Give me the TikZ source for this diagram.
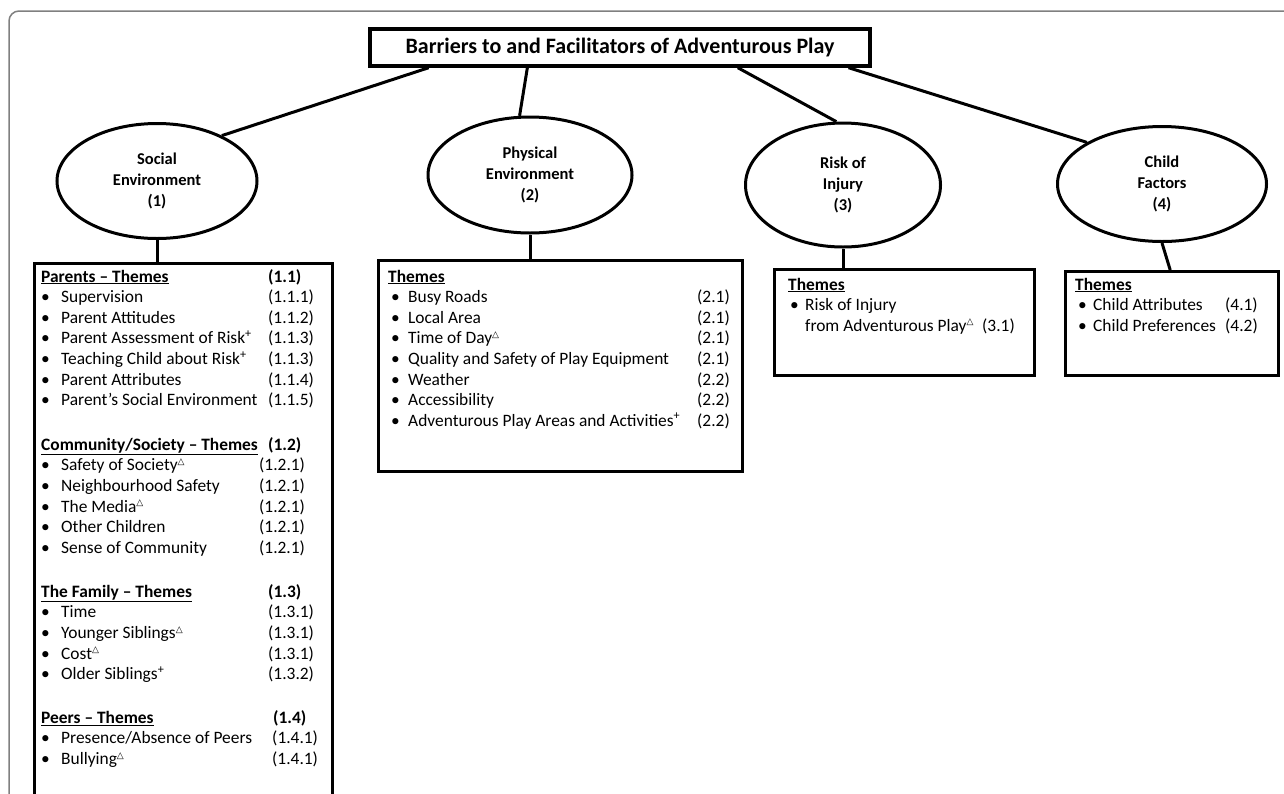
\documentclass[tikz,border=0pt]{standalone}
\usepackage{fontspec}
\setmainfont{Carlito}
\newfontfamily\trifont{DejaVu Sans}
\usetikzlibrary{shapes.geometric,calc}
\newcommand{\pls}{\textsuperscript{+}}
\newcommand{\tri}{\textsuperscript{\trifont\fontsize{9}{9}\selectfont △}}
\tikzset{
  cat/.style={ellipse, draw, line width=3pt, inner sep=0pt, align=center,
    font=\fontsize{16.5}{21}\selectfont\bfseries},
  themebox/.style={draw, line width=3.4pt, anchor=north west, inner sep=0pt},
  link/.style={line width=3pt},
  list/.style={anchor=base west, inner sep=0pt, font=\fontsize{17.4}{20.6}\selectfont}
}
\begin{document}
\begin{tikzpicture}[x=1pt,y=-1pt]
\useasboundingbox (0,0) rectangle (1284,793);
\draw[black!50, line width=1.5pt, rounded corners=10pt] (9,11) rectangle (1320,830);
% title
\node[draw, line width=3.4pt, minimum width=500pt, minimum height=37pt,
  font=\fontsize{22}{24}\selectfont\bfseries] (top) at (620,47.5)
  {Barriers to and Facilitators of Adventurous Play};
% categories
\node[cat, minimum width=200pt, minimum height=115pt] (e1) at (157,181) {Social\\Environment\\(1)};
\node[cat, minimum width=204pt, minimum height=116pt] (e2) at (530,175) {Physical\\Environment\\(2)};
\node[cat, minimum width=195pt, minimum height=124pt] (e3) at (843,185) {Risk of\\Injury\\(3)};
\node[cat, minimum width=209pt, minimum height=115pt] (e4) at (1162,184) {Child\\Factors\\(4)};
\draw[link] ($(top.south west)!.12!(top.south east)$) -- (e1.35);
\draw[link] ($(top.south west)!.316!(top.south east)$) -- (e2.100);
\draw[link] ($(top.south west)!.734!(top.south east)$) -- (e3.96);
\draw[link] ($(top.south west)!.954!(top.south east)$) -- (e4.151);
% theme boxes
\node[themebox, minimum width=298pt, minimum height=570pt] (b1) at (33,262) {};
\node[themebox, minimum width=364pt, minimum height=211pt] (b2) at (377,259) {};
\node[themebox, minimum width=260pt, minimum height=106pt] (b3) at (773,268) {};
\node[themebox, minimum width=213pt, minimum height=104pt] (b4) at (1064,270) {};
\draw[link] (e1.south) -- (e1.south |- b1.north);
\draw[link] (e2.south) -- (e2.south |- b2.north);
\draw[link] (e3.south) -- (e3.south |- b3.north);
\draw[link] (e4.south) -- ($(b4.north)+(-2,0)$);
% lists
\node[list] (t1) at (41,282) {\begin{tabular}[t]{@{}p{20pt}@{}p{207pt}@{}l@{}}
\multicolumn{2}{@{}l}{\textbf{\underline{Parents – Themes}}} & \textbf{(1.1)}\\
• & Supervision & (1.1.1)\\
• & Parent Attitudes & (1.1.2)\\
• & Parent Assessment of Risk\pls & (1.1.3)\\
• & Teaching Child about Risk\pls & (1.1.3)\\
• & Parent Attributes & (1.1.4)\\
• & Parent’s Social Environment & (1.1.5)\\[24pt]
\multicolumn{2}{@{}l}{\textbf{\underline{Community/Society – Themes}}} & \textbf{(1.2)}\\
• & Safety of Society\tri & \hspace{-9pt}(1.2.1)\\
• & Neighbourhood Safety & \hspace{-9pt}(1.2.1)\\
• & The Media\tri & \hspace{-9pt}(1.2.1)\\
• & Other Children & \hspace{-9pt}(1.2.1)\\
• & Sense of Community & \hspace{-9pt}(1.2.1)\\[23.5pt]
\multicolumn{2}{@{}l}{\textbf{\underline{The Family – Themes}}} & \textbf{(1.3)}\\
• & Time & (1.3.1)\\
• & Younger Siblings\tri & (1.3.1)\\
• & Cost\tri & (1.3.1)\\
• & Older Siblings\pls & (1.3.2)\\[23pt]
\multicolumn{2}{@{}l}{\textbf{\underline{Peers – Themes}}} & \hspace{5pt}\textbf{(1.4)}\\
• & Presence/Absence of Peers & \hspace{4pt}(1.4.1)\\
• & Bullying\tri & \hspace{4pt}(1.4.1)\\
\end{tabular}};
\node[list] (t2) at (388,282) {\begin{tabular}[t]{@{\hspace{3pt}}p{17pt}@{}p{289pt}@{}l@{}}
\multicolumn{3}{@{}l}{\textbf{\underline{Themes}}}\\
• & Busy Roads & (2.1)\\
• & Local Area & (2.1)\\
• & Time of Day\tri & (2.1)\\
• & Quality and Safety of Play Equipment & (2.1)\\
• & Weather & (2.2)\\
• & Accessibility & (2.2)\\
• & Adventurous Play Areas and Activities\pls & (2.2)\\
\end{tabular}};
\node[list] (t3) at (788,290) {\begin{tabular}[t]{@{\hspace{2pt}}p{15pt}@{}p{177pt}@{}l@{}}
\multicolumn{3}{@{}l}{\textbf{\underline{Themes}}}\\
• & Risk of Injury & \\
 & from Adventurous Play\tri & (3.1)\\
\end{tabular}};
\node[list] (t4) at (1075,290) {\begin{tabular}[t]{@{\hspace{3pt}}p{15pt}@{}p{132pt}@{}l@{}}
\multicolumn{3}{@{}l}{\textbf{\underline{Themes}}}\\
• & Child Attributes & (4.1)\\
• & Child Preferences & (4.2)\\
\end{tabular}};
\end{tikzpicture}
\end{document}
